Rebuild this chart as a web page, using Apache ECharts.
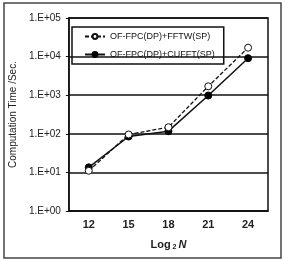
<!DOCTYPE html>
<html><head><meta charset="utf-8">
<script src="https://cdn.jsdelivr.net/npm/echarts@6/dist/echarts.min.js"></script>
<style>html,body{margin:0;padding:0;background:#fff}#c{width:285px;height:260px}</style>
</head><body><div id="c"></div>
<script>
const categories = ['12', '15', '18', '21', '24'];
const fftwValues = [11, 96, 148, 1700, 17000];
const cufftValues = [13.5, 85, 117, 980, 9100];
const seriesNames = ['OF-FPC(DP)+FFTW(SP)', 'OF-FPC(DP)+CUFFT(SP)'];

const chart = echarts.init(document.getElementById('c'));
const font = 'Liberation Sans';
chart.setOption({
  animation: false,
  backgroundColor: '#fff',
  graphic: [{
    type: 'rect', shape: {x: 4, y: 3, width: 277, height: 255},
    style: {fill: 'none', stroke: '#444', lineWidth: 1.5}, silent: true
  }],
  grid: {left: 67, right: 17, top: 18, bottom: 49, show: true, borderColor: '#111', borderWidth: 1.5},
  legend: {
    orient: 'vertical', left: 72, top: 27,
    borderColor: '#111', borderWidth: 1.5, padding: [4, 9, 4, 12], itemGap: 7,
    itemWidth: 20, itemHeight: 6,
    textStyle: {fontFamily: font, fontSize: 9, color: '#111', lineHeight: 11},
    data: seriesNames
  },
  xAxis: {
    type: 'category', data: categories, boundaryGap: true,
    axisLine: {lineStyle: {color: '#111', width: 1.5}},
    axisTick: {inside: true, length: 4, lineStyle: {color: '#111'}},
    axisLabel: {fontFamily: font, fontSize: 11, fontWeight: 'bold', color: '#222', margin: 8},
    name: '{a|Log}{b| 2 }{c|N}', nameLocation: 'middle', nameGap: 27,
    nameTextStyle: {rich: {
      a: {fontFamily: font, fontSize: 11, fontWeight: 'bold', color: '#222'},
      b: {fontFamily: font, fontSize: 7, fontWeight: 'bold', color: '#222', verticalAlign: 'bottom', padding: [6, 0, 0, 0]},
      c: {fontFamily: font, fontSize: 11, fontWeight: 'bold', fontStyle: 'italic', color: '#222'}
    }}
  },
  yAxis: {
    type: 'log', logBase: 10, min: 1, max: 100000,
    axisLine: {show: true, lineStyle: {color: '#111', width: 1.5}},
    axisTick: {show: true, inside: false, length: 3, lineStyle: {color: '#111'}},
    splitLine: {lineStyle: {color: '#111', width: 1.5}},
    axisLabel: {fontFamily: font, fontSize: 10, color: '#222', margin: 8,
      formatter: v => '1.E+' + String(Math.round(Math.log10(v))).padStart(2, '0')},
    name: 'Computation Time /Sec.', nameLocation: 'middle', nameGap: 46,
    nameTextStyle: {fontFamily: font, fontSize: 10, color: '#222'}
  },
  series: [
    {
      name: seriesNames[0], type: 'line', data: fftwValues,
      symbol: 'circle', symbolSize: 7,
      lineStyle: {color: '#111', width: 1.3, type: [4, 2]},
      itemStyle: {color: '#fff', borderColor: '#111', borderWidth: 1}, z: 3
    },
    {
      name: seriesNames[1], type: 'line', data: cufftValues,
      symbol: 'circle', symbolSize: 7,
      lineStyle: {color: '#111', width: 1.5},
      itemStyle: {color: '#000', borderColor: '#000', borderWidth: 1}, z: 2
    }
  ]
});
</script></body></html>
